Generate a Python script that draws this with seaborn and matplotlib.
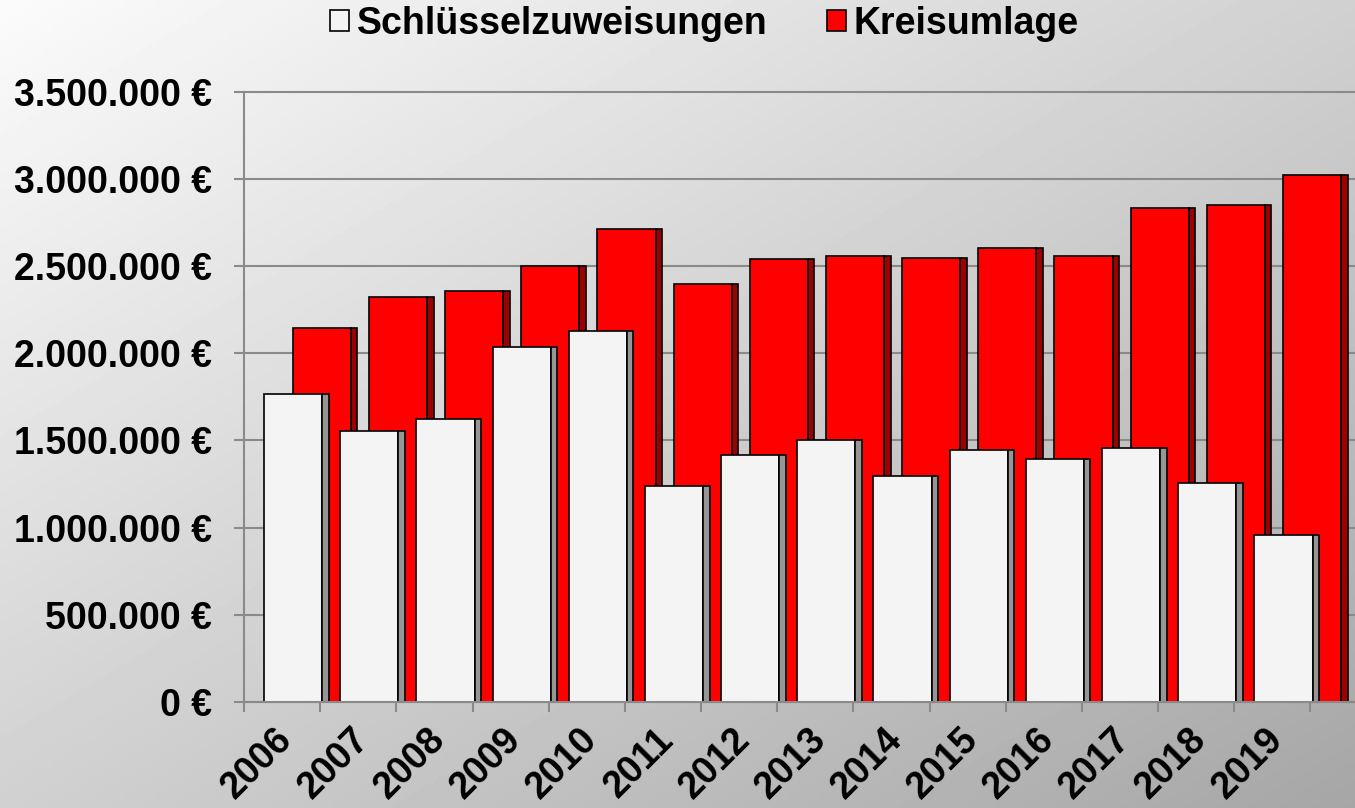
import numpy as np
import pandas as pd
import matplotlib
matplotlib.use("Agg")
import matplotlib.pyplot as plt
import matplotlib.transforms as mtrans
from matplotlib.patches import Patch
from matplotlib.ticker import FuncFormatter, FixedLocator
import seaborn as sns

# --- Daten ---
jahre = [2006, 2007, 2008, 2009, 2010, 2011, 2012,
         2013, 2014, 2015, 2016, 2017, 2018, 2019]
schluesselzuweisungen = [1764000, 1552000, 1623000, 2037000, 2126000, 1240000, 1416000,
                         1501000, 1294000, 1445000, 1392000, 1455000, 1256000, 959000]
kreisumlage = [2143000, 2324000, 2358000, 2500000, 2710000, 2396000, 2542000,
               2557000, 2546000, 2605000, 2557000, 2834000, 2850000, 3024000]
serien = ["Schlüsselzuweisungen", "Kreisumlage"]

# Balkengeometrie in Kategorie-Einheiten (Kategorie = 1.0)
face_w = 0.765
side_w = 0.084
off_white = -0.5 + 0.263
off_red = -0.5 + 0.639

sns.set_theme(style="white")
plt.rcParams['font.family'] = ['Liberation Sans', 'DejaVu Sans']
plt.rcParams['font.weight'] = 'bold'
plt.rcParams['text.color'] = 'black'

W, H = 1355, 808
fig = plt.figure(figsize=(W / 100, H / 100), dpi=100)

# Hintergrund mit diagonalem Verlauf
bg = fig.add_axes([0, 0, 1, 1], zorder=-10)
gx = np.linspace(0, 1, 300)
gy = np.linspace(0, 1, 200)
t = (gx[None, :] + gy[:, None]) / 2
bg.imshow(251 - 85 * t, cmap="gray", vmin=0, vmax=255, aspect="auto")
bg.axis("off")

ax = fig.add_axes([244 / W, 1 - 702 / H, (W - 244) / W, (702 - 91.5) / H])
ax.set_facecolor("none")

df = pd.DataFrame({"jahr": jahre, "sz": schluesselzuweisungen, "ku": kreisumlage})
jahr = np.array(jahre, dtype=float)

def bars(xpos, werte, width, farbe):
    sns.barplot(x=xpos, y=werte, native_scale=True, width=width, color=farbe,
                saturation=1, edgecolor="black", linewidth=1.2, errorbar=None, ax=ax)

# Kreisumlage hinten, Schlüsselzuweisungen vorne (Front + Seitenfläche)
bars(jahr + off_red + face_w / 2, df["ku"], face_w, "#ff0000")
bars(jahr + off_red + face_w + side_w / 2, df["ku"], side_w, "#9c0000")
bars(jahr + off_white + face_w / 2, df["sz"], face_w, "#f4f4f4")
bars(jahr + off_white + face_w + side_w / 2, df["sz"], side_w, "#969696")

ax.set_xlim(jahre[0] - 0.5, jahre[0] - 0.5 + (W - 244) / 76.17)
ax.set_ylim(0, 3500000)
ax.set_yticks(np.arange(0, 3500001, 500000))
ax.yaxis.set_major_formatter(FuncFormatter(lambda v, p: f"{int(v):,}".replace(",", ".") + " €"))

ax.xaxis.set_major_locator(FixedLocator([j - 0.5 for j in jahre] + [jahre[-1] + 0.5]))
ax.xaxis.set_major_formatter(FuncFormatter(lambda v, p: ""))
ax.set_xticks(jahre, minor=True)
ax.set_xticklabels([str(j) for j in jahre], minor=True, rotation=45,
                   ha="right", va="center", rotation_mode="anchor")
ax.set_xlabel("")
ax.set_ylabel("")

grau = "#8a8a8a"
ax.set_axisbelow(True)
ax.yaxis.grid(True, color=grau, linewidth=1.5)
ax.xaxis.grid(False)
for gl in ax.get_ygridlines():
    gl.set_clip_on(False)
for s in ["top", "right"]:
    ax.spines[s].set_visible(False)
for s in ["left", "bottom"]:
    ax.spines[s].set_color(grau)
    ax.spines[s].set_linewidth(1.5)

ax.tick_params(axis="y", which="major", left=True, length=7, width=1.5, color=grau,
               pad=16, labelsize=27, labelcolor="black")
ax.tick_params(axis="x", which="major", bottom=True, length=7, width=1.5, color=grau)
ax.tick_params(axis="x", which="minor", bottom=True, length=0, pad=0,
               labelsize=27, labelcolor="black")
for lab in ax.get_yticklabels():
    lab.set_fontweight("bold")
versatz = mtrans.ScaledTranslation(0.05, -0.32, fig.dpi_scale_trans)
for lab in ax.get_xticklabels(minor=True):
    lab.set_fontweight("bold")
    lab.set_transform(lab.get_transform() + versatz)

handles = [Patch(facecolor="#f4f4f4", edgecolor="black", linewidth=1.2),
           Patch(facecolor="#ff0000", edgecolor="black", linewidth=1.2)]
fig.legend(handles, serien, loc="center", bbox_to_anchor=(704.5 / W, 1 - 24 / H),
           ncol=2, frameon=False, handlelength=0.5, handleheight=0.5,
           handletextpad=0.2, columnspacing=1.6, labelcolor="black",
           prop={"size": 27, "weight": "bold"})

plt.savefig("out.png", dpi=100)
plt.close()
